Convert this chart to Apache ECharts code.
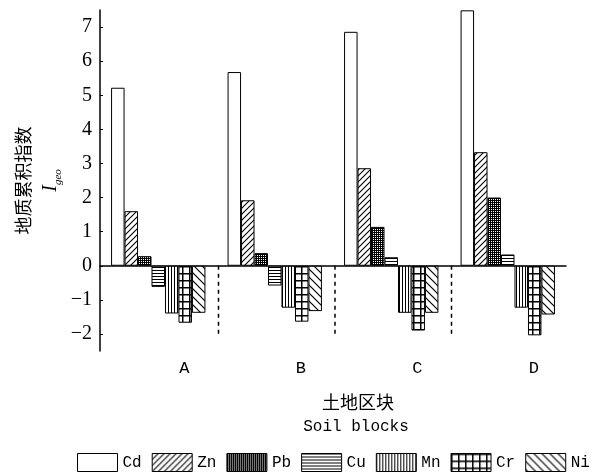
<!DOCTYPE html>
<html>
<head>
<meta charset="utf-8">
<script src="https://cdn.jsdelivr.net/npm/echarts@6/dist/echarts.min.js"></script>
<style>
html,body{margin:0;padding:0;background:#fff;}
#chart{width:596px;height:476px;}
</style>
</head>
<body>
<div id="chart"></div>
<script>
// ---- data ----
const categories = ['A', 'B', 'C', 'D'];
const seriesNames = ['Cd', 'Zn', 'Pb', 'Cu', 'Mn', 'Cr', 'Ni'];
const Cd = [5.22, 5.68, 6.86, 7.49];
const Zn = [1.60, 1.92, 2.86, 3.33];
const Pb = [0.28, 0.37, 1.14, 2.00];
const Cu = [-0.62, -0.58, 0.25, 0.33];
const Mn = [-1.40, -1.23, -1.38, -1.23];
const Cr = [-1.67, -1.64, -1.90, -2.04];
const Ni = [-1.38, -1.33, -1.38, -1.43];
const yTicks = [-2, -1, 0, 1, 2, 3, 4, 5, 6, 7];
const yRange = [-2.5, 7.5];
const separatorIdx = [0, 1, 2];      // dashed separators after these categories
const separatorSpan = [0, -2];       // vertical extent of separators (value units)
const yTitleCn = '地质累积指数';
const xTitleCn = '土地区块';
const xTitleEn = 'Soil blocks';

// ---- patterns ----
function pat(w, h, draw) {
  const c = document.createElement('canvas');
  c.width = w; c.height = h;
  const g = c.getContext('2d');
  g.fillStyle = '#fff'; g.fillRect(0, 0, w, h);
  g.fillStyle = '#000'; g.strokeStyle = '#000';
  draw(g, w, h);
  return { image: c, repeat: 'repeat' };
}
const patterns = {
  Cd: '#ffffff',
  Zn: pat(6, 6, (g, w, h) => {
    g.lineWidth = 1.1;
    g.beginPath();
    g.moveTo(-1, h + 1); g.lineTo(w + 1, -1);
    g.moveTo(-1, 1); g.lineTo(1, -1);
    g.moveTo(w - 1, h + 1); g.lineTo(w + 1, h - 1);
    g.stroke();
  }),
  Pb: pat(4, 4, (g) => {
    g.fillRect(0, 0, 4, 4);
    g.fillStyle = '#fff';
    g.fillRect(1, 1, 1, 1); g.fillRect(3, 3, 1, 1);
    g.fillRect(1, 3, 1, 1); g.fillRect(3, 1, 1, 1);
  }),
  Cu: pat(3, 3, (g) => { g.fillRect(0, 0, 3, 1); }),
  Mn: pat(3, 3, (g) => { g.fillRect(0, 0, 1, 3); }),
  Cr: pat(7, 7, (g) => { g.fillRect(0, 0, 7, 1.5); g.fillRect(0, 0, 1.5, 7); }),
  Ni: pat(8, 8, (g, w, h) => {
    g.lineWidth = 1.2;
    g.beginPath();
    g.moveTo(-1, -1); g.lineTo(w + 1, h + 1);
    g.moveTo(w - 1, -1); g.lineTo(w + 1, 1);
    g.moveTo(-1, h - 1); g.lineTo(1, h + 1);
    g.stroke();
  })
};
const values = { Cd, Zn, Pb, Cu, Mn, Cr, Ni };

const chart = echarts.init(document.getElementById('chart'), null, { renderer: 'canvas' });

const barSeries = seriesNames.map(n => ({
  name: n,
  type: 'bar',
  xAxisIndex: 0,
  yAxisIndex: 0,
  data: values[n],
  barGap: '0%',
  barCategoryGap: '19%',
  itemStyle: { color: patterns[n], borderColor: '#000', borderWidth: 1 },
  emphasis: { disabled: true },
  animation: false
}));

const option = {
  animation: false,
  backgroundColor: '#fff',
  grid: { left: 100, right: 30, top: 10, bottom: 125, containLabel: false },
  legend: {
    data: seriesNames,
    left: 77, top: 453, padding: 0,
    itemWidth: 40, itemHeight: 18, itemGap: 10,
    icon: 'rect',
    itemStyle: { borderColor: '#000', borderWidth: 1 },
    textStyle: { fontFamily: 'Liberation Mono', fontSize: 16, color: '#000' },
    selectedMode: false
  },
  xAxis: [
    {
      type: 'category', data: categories, gridIndex: 0,
      axisLine: { show: true, onZero: true, lineStyle: { color: '#000', width: 1.5 } },
      axisTick: { show: false }, axisLabel: { show: false }, splitLine: { show: false }
    },
    {
      type: 'category', data: categories, gridIndex: 0, position: 'bottom',
      axisLine: { show: false, onZero: false }, axisTick: { show: false },
      axisLabel: { show: true, margin: 9, fontFamily: 'Liberation Mono', fontSize: 17, color: '#000', padding: [0, 0, 0, 52] },
      splitLine: { show: false }
    }
  ],
  yAxis: {
    type: 'value', min: yRange[0], max: yRange[1],
    axisLine: { show: true, onZero: false, lineStyle: { color: '#000', width: 1.5 } },
    axisTick: { show: true, inside: true, length: 3, customValues: yTicks, lineStyle: { color: '#000', width: 1 } },
    axisLabel: {
      customValues: yTicks, margin: 8, fontFamily: 'Liberation Serif', fontSize: 20, color: '#000',
      formatter: v => (v < 0 ? '\u2212' + Math.abs(v) : String(v))
    },
    splitLine: { show: false },
    name: '{cn|' + yTitleCn + '}\n{i|I}{s|geo}',
    nameLocation: 'middle', nameRotate: 90, nameGap: 36, nameMoveOverlap: false,
    nameTextStyle: {
      color: '#000',
      rich: {
        cn: { fontFamily: 'Noto Sans CJK SC', fontSize: 18, lineHeight: 27, color: '#000' },
        i: { fontFamily: 'Liberation Serif', fontStyle: 'italic', fontSize: 20, lineHeight: 27, color: '#000' },
        s: { fontFamily: 'Liberation Serif', fontStyle: 'italic', fontSize: 11, lineHeight: 27, verticalAlign: 'bottom', color: '#000' }
      }
    }
  },
  graphic: [
    { type: 'text', x: 358, y: 402, silent: true,
      style: { text: xTitleCn, fill: '#000', font: '18px "Noto Sans CJK SC"', align: 'center', verticalAlign: 'middle' } },
    { type: 'text', x: 356, y: 427, silent: true,
      style: { text: xTitleEn, fill: '#000', font: '16px "Liberation Mono"', align: 'center', verticalAlign: 'middle' } }
  ],
  series: barSeries.concat([{
    type: 'custom',
    name: 'sep',
    silent: true,
    xAxisIndex: 0, yAxisIndex: 0,
    data: separatorIdx.map(i => [i, 0]),
    renderItem: function (params, api) {
      const idx = api.value(0);
      const p0 = api.coord([idx, separatorSpan[0]]);
      const p1 = api.coord([idx, separatorSpan[1]]);
      const half = api.size([1, 0])[0] / 2;
      const x = p0[0] + half + 2;
      return {
        type: 'line',
        shape: { x1: x, y1: p0[1], x2: x, y2: p1[1] },
        style: { stroke: '#000', lineWidth: 1.5, lineDash: [4, 4] }
      };
    },
    z: 5
  }])
};
chart.setOption(option);
</script>
</body>
</html>
